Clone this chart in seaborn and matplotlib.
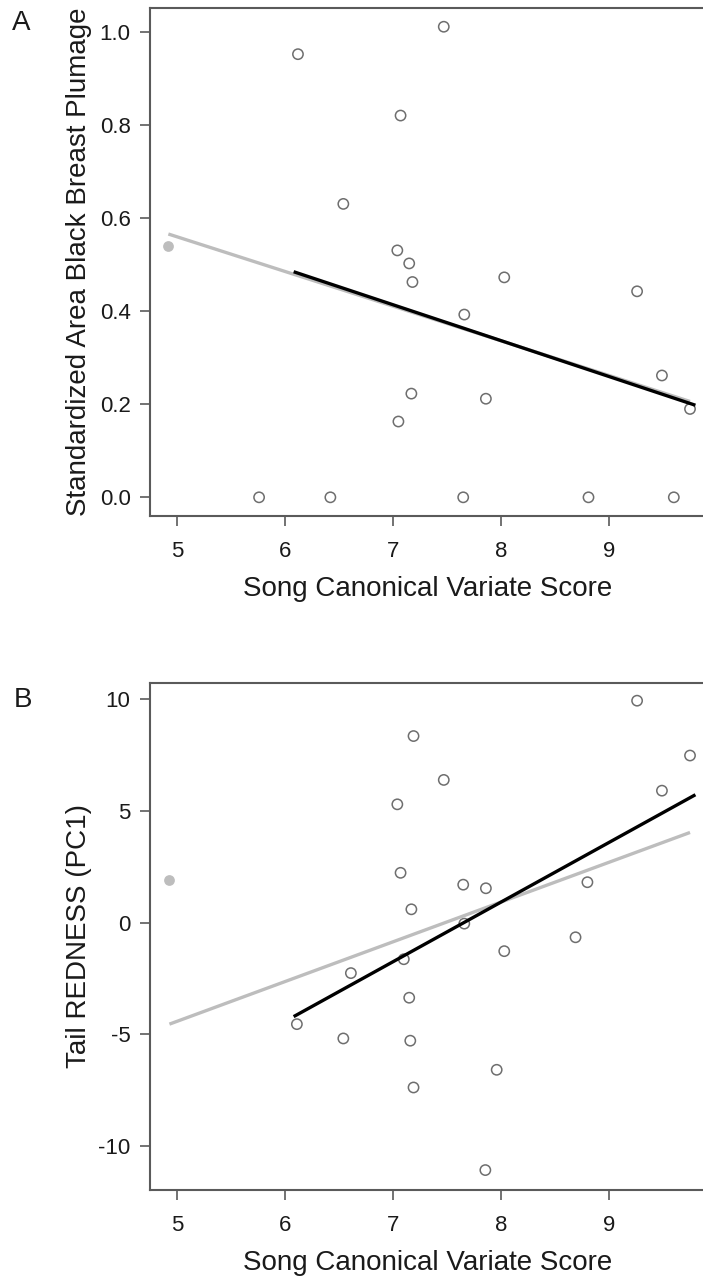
import numpy as np
import pandas as pd
import matplotlib
matplotlib.use('Agg')
import matplotlib.pyplot as plt
import seaborn as sns

# Panel A: breast plumage vs song score
song_a = [6.12, 7.47, 7.07, 6.54, 7.04, 7.15, 7.18, 8.03, 9.26, 7.66,
          9.49, 7.17, 7.86, 7.05, 9.75, 5.76, 6.42, 7.65, 8.81, 9.60]
breast_a = [0.953, 1.012, 0.821, 0.631, 0.531, 0.503, 0.463, 0.473, 0.443, 0.393,
            0.262, 0.223, 0.212, 0.163, 0.190, 0.0, 0.0, 0.0, 0.0, 0.0]
outlier_a = ([4.92], [0.541])

# Panel B: tail redness vs song score
song_b = [7.07, 7.65, 7.86, 7.17, 8.80, 7.66, 8.69, 8.03, 7.10, 6.61, 7.15, 6.11,
          6.54, 7.16, 7.96, 7.19, 9.26, 7.19, 9.75, 7.47, 9.49, 7.04, 7.855]
tail_b = [2.22, 1.69, 1.53, 0.59, 1.80, -0.05, -0.66, -1.28, -1.64, -2.26, -3.36, -4.54,
          -5.18, -5.28, -6.58, -7.37, 9.91, 8.33, 7.46, 6.37, 5.89, 5.28, -11.06]
outlier_b = ([4.93], [1.89])

# x extent over which the black (grey bird excluded) fit is drawn
black_span = (6.08, 9.80)

xticks = [5, 6, 7, 8, 9]
yticks_a = [0.0, 0.2, 0.4, 0.6, 0.8, 1.0]
yticks_b = [-10, -5, 0, 5, 10]

sns.set_style('white')
plt.rcParams['font.family'] = ['Liberation Sans', 'DejaVu Sans']
plt.rcParams['axes.unicode_minus'] = False

W, H = 703, 1280
fig = plt.figure(figsize=(W / 100, H / 100), dpi=100)

def add_axes(left, top, right, bottom):
    return fig.add_axes([left / W, 1 - bottom / H, (right - left) / W, (bottom - top) / H])

frame_col = '#5a5a5a'
txt_col = '#1a1a1a'
grey = '#bdbdbd'

def panel(ax, x, y, outlier, ylim, yticks, fmt, ylabel):
    df = pd.DataFrame({'song': x, 'val': y})
    df_all = pd.concat([df, pd.DataFrame({'song': outlier[0], 'val': outlier[1]})])
    sns.regplot(data=df, x='song', y='val', fit_reg=False, ax=ax, color='#4a4a4a',
                marker='o', scatter_kws={'s': 55, 'facecolors': 'none', 'linewidths': 1.1})
    sns.scatterplot(x=outlier[0], y=outlier[1], ax=ax, color=grey, s=60, linewidth=0)
    # fit with the grey bird included
    sns.regplot(data=df_all, x='song', y='val', scatter=False, ci=None, ax=ax,
                color=grey, line_kws={'linewidth': 2.4, 'solid_capstyle': 'butt'})
    # fit without it, drawn across black_span (truncate=False uses current xlim)
    ax.set_xlim(*black_span)
    sns.regplot(data=df, x='song', y='val', scatter=False, ci=None, ax=ax, truncate=False,
                color='black', line_kws={'linewidth': 2.4, 'solid_capstyle': 'butt'})
    ax.set_xlim(4.75, 9.898)
    ax.set_ylim(*ylim)
    ax.set_xticks(xticks)
    ax.set_yticks(yticks)
    ax.set_yticklabels([fmt.format(v) for v in yticks])
    ax.tick_params(bottom=True, left=True, length=7, width=1.2, color=frame_col,
                   labelsize=16, labelcolor=txt_col)
    ax.tick_params(axis='x', pad=11)
    ax.tick_params(axis='y', pad=7)
    for sp in ax.spines.values():
        sp.set_color(frame_col)
        sp.set_linewidth(1.5)
    ax.set_xlabel('Song Canonical Variate Score', fontsize=20, color=txt_col)
    ax.set_ylabel(ylabel, fontsize=20, color=txt_col)
    ax.xaxis.set_label_coords(0.5, -0.118)
    ax.yaxis.set_label_coords(-0.104, 0.5)

axA = add_axes(150, 8, 706, 516)
axB = add_axes(150, 683, 706, 1190)

panel(axA, song_a, breast_a, outlier_a, (-0.0402, 1.0523), yticks_a, '{:.1f}',
      'Standardized Area Black Breast Plumage')
panel(axB, song_b, tail_b, outlier_b, (-11.95, 10.70), yticks_b, '{:d}',
      'Tail REDNESS (PC1)')

fig.text(12 / W, 1 - 10 / H, 'A', fontsize=20, va='top', ha='left', color=txt_col)
fig.text(14 / W, 1 - 687 / H, 'B', fontsize=20, va='top', ha='left', color=txt_col)

fig.savefig('out.png', dpi=100)
